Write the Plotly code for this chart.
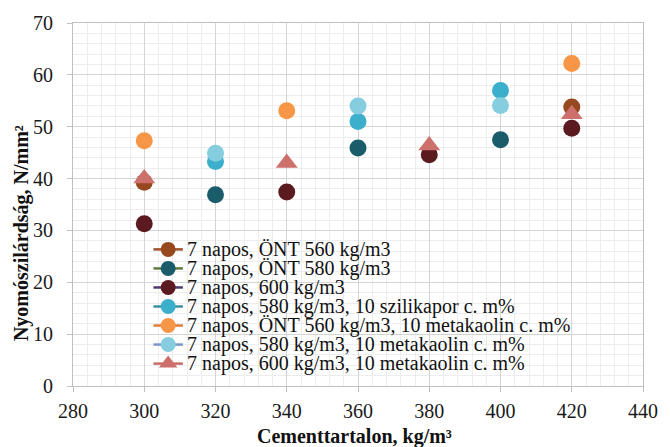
import plotly.graph_objects as go

names = [
    "7 napos, ÖNT 560 kg/m3",
    "7 napos, ÖNT 580 kg/m3",
    "7 napos, 600 kg/m3",
    "7 napos, 580 kg/m3, 10 szilikapor c. m%",
    "7 napos, ÖNT 560 kg/m3, 10 metakaolin c. m%",
    "7 napos, 580 kg/m3, 10 metakaolin c. m%",
    "7 napos, 600 kg/m3, 10 metakaolin c. m%",
]

x_ont560 = [300, 420]
y_ont560 = [39.3, 53.8]
x_ont580 = [320, 360, 400]
y_ont580 = [36.9, 45.9, 47.5]
x_600 = [300, 340, 380, 420]
y_600 = [31.3, 37.4, 44.6, 49.7]
x_580_szil = [320, 360, 400]
y_580_szil = [43.3, 51.0, 57.0]
x_ont560_meta = [300, 340, 420]
y_ont560_meta = [47.3, 53.1, 62.2]
x_580_meta = [320, 360, 400]
y_580_meta = [44.9, 54.0, 54.1]
x_600_meta = [300, 340, 380, 420]
y_600_meta = [40.0, 43.0, 46.4, 52.4]

xs = [x_ont560, x_ont580, x_600, x_580_szil, x_ont560_meta, x_580_meta, x_600_meta]
ys = [y_ont560, y_ont580, y_600, y_580_szil, y_ont560_meta, y_580_meta, y_600_meta]
marker_colors = ["#96481E", "#1B5C6B", "#5B1A20", "#3BAFCB", "#F79646", "#85CDDF", "#CD706C"]
line_colors = ["#A0522D", "#5F7A3F", "#4B3A6B", "#3A8FA0", "#E07B39", "#7B96C8", "#C96B66"]
symbols = ["circle"] * 6 + ["triangle-up"]
sizes = [17] * 6 + [19]

SERIF = "Liberation Serif, Times New Roman, serif"

fig = go.Figure()
for n, x, y, mc, sym, sz in zip(names, xs, ys, marker_colors, symbols, sizes):
    fig.add_trace(go.Scatter(x=x, y=y, mode="markers", name=n, showlegend=False,
                             marker=dict(color=mc, symbol=sym, size=sz, line=dict(width=0))))

# Compact legend (Excel-like tight rows): keys on an overlay axis in paper units, labels as text
L, R, T, B = 73, 654, 18, 386
W, H = R - L, B - T
row0, row_step = 247.5, 19.3
for i, (n, mc, lc, sym) in enumerate(zip(names, marker_colors, line_colors, symbols)):
    py = row0 + i * row_step
    yp = (B - py) / H
    fig.add_trace(go.Scatter(x=[(155 - L) / W, (185 - L) / W], y=[yp, yp], xaxis="x2", yaxis="y2",
                             mode="lines", showlegend=False, hoverinfo="skip", cliponaxis=False,
                             line=dict(color=lc, width=2.5)))
    fig.add_trace(go.Scatter(x=[(170 - L) / W], y=[yp], xaxis="x2", yaxis="y2",
                             mode="markers", showlegend=False, hoverinfo="skip", cliponaxis=False,
                             marker=dict(color=mc, symbol=sym, size=15 if sym == "circle" else 16,
                                         opacity=1, line=dict(width=0))))
    fig.add_annotation(x=(187 - L) / W, y=yp, xref="paper", yref="paper", text=n,
                       showarrow=False, xanchor="left", yanchor="middle",
                       font=dict(family=SERIF, size=20, color="#111"))

axis_font = dict(family=SERIF, size=20, color="#1a1a1a")
title_font = dict(family=SERIF, size=20, color="#111")

fig.add_annotation(x=(360 - L) / W, y=(B - 437) / H, xref="paper", yref="paper",
                   text="<b>Cementtartalon, kg/m³</b>", showarrow=False,
                   xanchor="center", yanchor="middle", font=title_font)
fig.add_annotation(x=(20 - L) / W, y=(B - 231) / H, xref="paper", yref="paper",
                   text="<b>Nyomószilárdság, N/mm²</b>", showarrow=False, textangle=-90,
                   xanchor="center", yanchor="middle", font=title_font)

fig.update_layout(
    width=670, height=447,
    margin=dict(l=L, r=670 - R, t=T, b=447 - B),
    paper_bgcolor="white", plot_bgcolor="white",
    font=dict(family=SERIF, color="#111"),
    showlegend=False,
    hovermode=False,
    xaxis=dict(range=[280, 440], dtick=20, tick0=280, tickfont=axis_font,
               showgrid=True, gridcolor="#D4D4D4", gridwidth=1,
               minor=dict(dtick=4, showgrid=True, gridcolor="#EDEDED", gridwidth=1),
               showline=True, linecolor="#BFBFBF", linewidth=1, mirror=True,
               ticks="outside", ticklen=5, tickcolor="#BFBFBF", zeroline=False,
               ticklabelstandoff=2),
    yaxis=dict(range=[0, 70], dtick=10, tickfont=axis_font,
               showgrid=True, gridcolor="#D4D4D4", gridwidth=1,
               minor=dict(dtick=2, showgrid=True, gridcolor="#EDEDED", gridwidth=1),
               showline=True, linecolor="#BFBFBF", linewidth=1, mirror=True,
               ticks="outside", ticklen=5, tickcolor="#BFBFBF", zeroline=False,
               ticklabelstandoff=10),
    xaxis2=dict(overlaying="x", range=[0, 1], visible=False, fixedrange=True),
    yaxis2=dict(overlaying="y", range=[0, 1], visible=False, fixedrange=True),
)

fig.write_html("out.html", config={"displayModeBar": False},
               post_script="document.body.style.margin='0px';document.body.style.overflow='hidden';")
